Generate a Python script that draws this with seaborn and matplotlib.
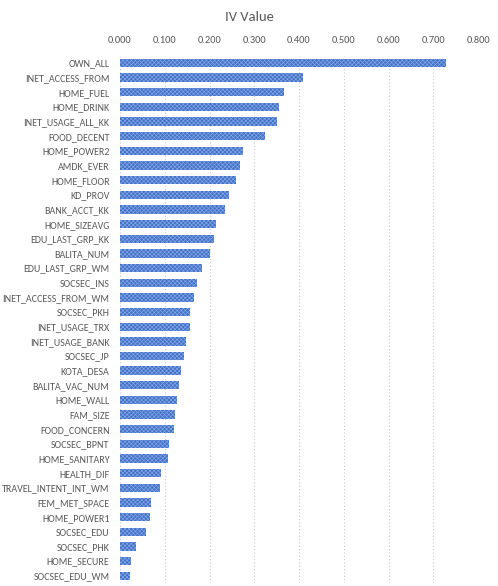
import matplotlib
matplotlib.use("Agg")
import matplotlib.pyplot as plt
import seaborn as sns
import pandas as pd

sns.set_theme(style="white")
plt.rcParams['font.family'] = ['Carlito', 'Liberation Sans', 'DejaVu Sans']
plt.rcParams['hatch.linewidth'] = 0.45

# IV values per variable
variables = [
    "OWN_ALL", "INET_ACCESS_FROM", "HOME_FUEL", "HOME_DRINK", "INET_USAGE_ALL_KK",
    "FOOD_DECENT", "HOME_POWER2", "AMDK_EVER", "HOME_FLOOR", "KD_PROV",
    "BANK_ACCT_KK", "HOME_SIZEAVG", "EDU_LAST_GRP_KK", "BALITA_NUM", "EDU_LAST_GRP_WM",
    "SOCSEC_INS", "INET_ACCESS_FROM_WM", "SOCSEC_PKH", "INET_USAGE_TRX", "INET_USAGE_BANK",
    "SOCSEC_JP", "KOTA_DESA", "BALITA_VAC_NUM", "HOME_WALL", "FAM_SIZE",
    "FOOD_CONCERN", "SOCSEC_BPNT", "HOME_SANITARY", "HEALTH_DIF", "TRAVEL_INTENT_INT_WM",
    "FEM_MET_SPACE", "HOME_POWER1", "SOCSEC_EDU", "SOCSEC_PHK", "HOME_SECURE",
    "SOCSEC_EDU_WM",
]
iv_values = [
    0.728, 0.409, 0.366, 0.355, 0.351,
    0.323, 0.275, 0.267, 0.259, 0.244,
    0.234, 0.215, 0.209, 0.202, 0.183,
    0.172, 0.165, 0.157, 0.156, 0.148,
    0.142, 0.136, 0.132, 0.127, 0.122,
    0.120, 0.109, 0.108, 0.092, 0.089,
    0.069, 0.066, 0.057, 0.035, 0.025,
    0.023,
]
x_ticks = [0.0, 0.1, 0.2, 0.3, 0.4, 0.5, 0.6, 0.7, 0.8]

df = pd.DataFrame({"variable": variables, "iv": iv_values})

fig = plt.figure(figsize=(4.98, 5.86), dpi=100)
ax = fig.add_axes([0.241, 0.005, 0.719, 0.900])

sns.barplot(data=df, x="iv", y="variable", orient="h", color="#4272c8",
            width=0.57, ax=ax, saturation=1)
for bar in ax.patches:
    bar.set_hatch("xxxxxxxx")
    bar.set_edgecolor("#86a8e6")
    bar.set_linewidth(0)

ax.set_xlim(0, 0.8)
ax.set_ylim(len(variables) - 0.5, -0.5)
ax.set_xticks(x_ticks)
ax.set_xticklabels([f"{t:.3f}" for t in x_ticks])
ax.xaxis.tick_top()
ax.tick_params(axis="x", length=0, pad=8, labelsize=7.5, colors="#595959")
ax.tick_params(axis="y", length=0, pad=7.5, labelsize=7.2, colors="#595959")
ax.set_xlabel("")
ax.set_ylabel("")
for s in ax.spines.values():
    s.set_visible(False)
ax.grid(axis="x", color="#c8c8c8", linestyle=(0, (1, 2)), linewidth=0.8)
ax.set_axisbelow(True)

fig.text(0.5, 0.971, "IV Value", ha="center", va="center", fontsize=10.5, color="#595959")

plt.savefig("out.png", dpi=100)
plt.close()
